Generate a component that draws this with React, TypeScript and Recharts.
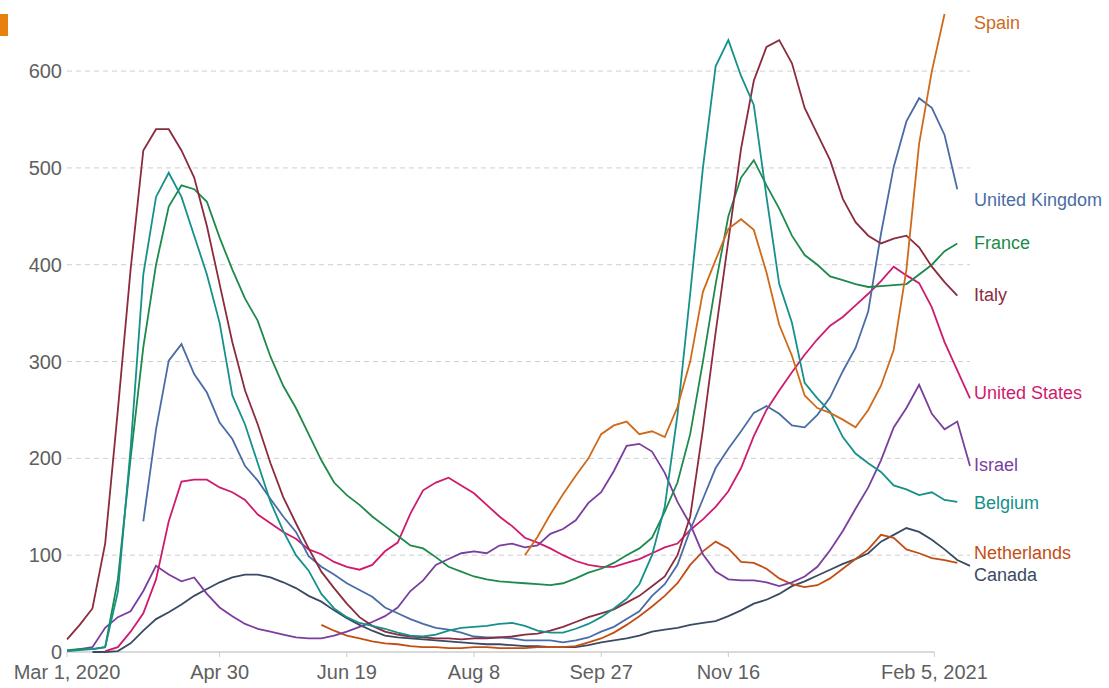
import { LineChart, Line, XAxis, YAxis, CartesianGrid, ReferenceLine } from "recharts";

// days since Mar 1, 2020, sampled every 5 days
const days = [
  0, 5, 10, 15, 20, 25, 30, 35, 40, 45, 50, 55, 60, 65, 70, 75, 80, 85, 90, 95,
  100, 105, 110, 115, 120, 125, 130, 135, 140, 145, 150, 155, 160, 165, 170, 175, 180, 185, 190, 195,
  200, 205, 210, 215, 220, 225, 230, 235, 240, 245, 250, 255, 260, 265, 270, 275, 280, 285, 290, 295,
  300, 305, 310, 315, 320, 325, 330, 335, 340, 345, 350, 355,
];

const italy = [
  13, 28, 45, 112, 250, 395, 518, 540, 540, 518, 490, 440, 380, 320, 270, 235, 195, 160, 133, 107,
  83, 66, 50, 36, 27, 21, 18, 16, 15, 14, 14, 13, 14, 14, 15, 16, 18, 19, 22, 26,
  31, 36, 40, 44, 51, 58, 68, 78, 100, 140, 230, 330, 425, 520, 590, 625, 632, 608, 562, 535,
  508, 468, 444, 430, 422, 427, 430, 418, 398, 382, 368, null,
];

const belgium = [
  1, 2, 3, 5, 62, 210, 390, 470, 495, 470, 430, 390, 340, 265, 235, 195, 155, 125, 100, 84,
  60, 45, 36, 30, 27, 24, 20, 17, 16, 18, 22, 25, 26, 27, 29, 30, 27, 22, 20, 20,
  24, 29, 36, 45, 55, 70, 100, 150, 245, 370, 500, 605, 632, 595, 565, 470, 380, 340, 278, 262,
  248, 222, 205, 195, 186, 172, 168, 162, 165, 157, 155, null,
];

const france = [
  2, 3, 3, 5, 75, 200, 315, 400, 460, 482, 478, 465, 428, 395, 365, 342, 305, 275, 252, 225,
  198, 175, 162, 152, 140, 130, 120, 110, 107, 98, 88, 83, 78, 75, 73, 72, 71, 70, 69, 71,
  76, 82, 86, 92, 100, 107, 118, 145, 175, 225, 300, 380, 450, 490, 508, 482, 458, 430, 410, 400,
  388, 384, 380, 377, 378, 379, 380, 390, 400, 414, 422, null,
];

const spain = [
  null, null, null, null, null, null, null, null, null, null, null, null, null, null, null, null, null, null, null, null,
  null, null, null, null, null, null, null, null, null, null, null, null, null, null, null, null, 100, 119, 142, 163,
  182, 200, 225, 234, 238, 225, 228, 222, 253, 300, 372, 405, 437, 447, 436, 392, 338, 306, 265, 252,
  247, 240, 232, 250, 275, 312, 395, 525, 600, 659, null, null,
];

const unitedKingdom = [
  null, null, null, null, null, null, 135, 230, 301, 318, 287, 268, 237, 220, 192, 177, 158, 140, 124, 99,
  88, 80, 71, 64, 57, 46, 40, 34, 29, 25, 23, 20, 16, 15, 15, 14, 12, 12, 12, 10,
  12, 15, 21, 26, 34, 42, 58, 70, 90, 126, 158, 190, 210, 228, 247, 254, 246, 234, 232, 245,
  263, 290, 314, 352, 432, 501, 548, 572, 562, 534, 478, null,
];

const unitedStates = [
  null, null, null, 1, 5, 21, 40, 75, 135, 176, 178, 178, 170, 165, 157, 142, 133, 124, 117, 106,
  101, 93, 88, 85, 90, 104, 113, 143, 167, 175, 180, 172, 164, 152, 140, 130, 118, 113, 107, 100,
  94, 90, 88, 88, 92, 96, 102, 108, 112, 126, 137, 150, 166, 190, 223, 250, 270, 289, 307, 323,
  337, 346, 358, 370, 383, 398, 389, 381, 356, 320, 291, 262,
];

const israel = [
  1, 3, 5, 25, 36, 42, 63, 89, 80, 73, 77, 60, 46, 37, 29, 24, 21, 18, 15, 14,
  14, 17, 21, 26, 31, 37, 46, 63, 74, 90, 96, 102, 104, 102, 110, 112, 108, 110, 122, 127,
  136, 154, 165, 187, 213, 215, 207, 185, 155, 132, 101, 83, 75, 74, 74, 72, 68, 72, 78, 88,
  105, 125, 148, 170, 198, 232, 252, 276, 246, 230, 238, 192,
];

const netherlands = [
  null, null, null, null, null, null, null, null, null, null, null, null, null, null, null, null, null, null, null, null,
  28, 22, 17, 14, 11, 9, 8, 6, 5, 5, 4, 4, 5, 5, 4, 4, 4, 5, 5, 5,
  6, 10, 14, 20, 28, 37, 47, 58, 71, 90, 104, 114, 107, 93, 92, 86, 76, 70, 67, 69,
  76, 86, 96, 106, 121, 118, 106, 102, 97, 95, 92, null,
];

const canada = [
  null, null, 0, 0, 1, 9, 22, 34, 41, 49, 58, 65, 72, 77, 80, 80, 77, 72, 66, 58,
  52, 43, 35, 28, 22, 17, 15, 14, 13, 12, 11, 10, 9, 8, 8, 7, 6, 6, 5, 5,
  5, 7, 10, 12, 14, 17, 21, 23, 25, 28, 30, 32, 37, 43, 50, 54, 60, 68, 73, 79,
  85, 91, 96, 102, 114, 121, 128, 124, 116, 106, 95, 89,
];

const tickDays = [0, 60, 110, 160, 210, 260, 341];
const tickLabels = ["Mar 1, 2020", "Apr 30", "Jun 19", "Aug 8", "Sep 27", "Nov 16", "Feb 5, 2021"];

const series = [
  { key: "canada", name: "Canada", color: "#3a4a63", values: canada, labelY: 575 },
  { key: "netherlands", name: "Netherlands", color: "#c34e14", values: netherlands, labelY: 553 },
  { key: "israel", name: "Israel", color: "#7a3f9e", values: israel, labelY: 465 },
  { key: "unitedStates", name: "United States", color: "#cf1b6e", values: unitedStates, labelY: 393 },
  { key: "unitedKingdom", name: "United Kingdom", color: "#4a6ca6", values: unitedKingdom, labelY: 200 },
  { key: "france", name: "France", color: "#1d8a4b", values: france, labelY: 243 },
  { key: "italy", name: "Italy", color: "#8b2b3d", values: italy, labelY: 295 },
  { key: "belgium", name: "Belgium", color: "#16918a", values: belgium, labelY: 503 },
  { key: "spain", name: "Spain", color: "#cf6a1a", values: spain, labelY: 23 },
];

const data = days.map((day, i) => {
  const row: Record<string, number | null> = { day };
  series.forEach((s) => {
    row[s.key] = s.values[i];
  });
  return row;
});

const font = '"Liberation Sans", Arial, sans-serif';

export default function App() {
  return (
    <div style={{ position: "absolute", left: 0, top: 0, width: 1109, height: 688, background: "#fff", fontFamily: font }}>
      <div style={{ position: "absolute", left: 0, top: 14, width: 8, height: 22, background: "#e8800e" }} />
      <LineChart width={1109} height={688} data={data} margin={{ top: 13, right: 139, bottom: 4, left: 7 }}>
        <CartesianGrid vertical={false} horizontalValues={[100, 200, 300, 400, 500, 600]} stroke="#cfcfcf" strokeDasharray="5 4" />
        <XAxis
          dataKey="day"
          type="number"
          domain={[0, 355]}
          ticks={tickDays}
          tickFormatter={(v: number) => tickLabels[tickDays.indexOf(v)]}
          axisLine={false}
          tickLine={{ stroke: "#cccccc" }}
          tickSize={5}
          tickMargin={8}
          height={32}
          tick={{ fill: "#5f5f5f", fontSize: 20, fontFamily: font }}
        />
        <YAxis
          type="number"
          domain={[0, 660]}
          ticks={[0, 100, 200, 300, 400, 500, 600]}
          axisLine={false}
          tickLine={false}
          tickSize={0}
          tickMargin={5}
          width={60}
          tick={{ fill: "#5f5f5f", fontSize: 20, fontFamily: font }}
        />
        <ReferenceLine segment={[{ x: 0, y: 0 }, { x: 341, y: 0 }]} stroke="#cccccc" strokeWidth={1.5} />
        {series.map((s) => (
          <Line
            key={s.key}
            type="linear"
            dataKey={s.key}
            stroke={s.color}
            strokeWidth={1.8}
            dot={false}
            isAnimationActive={false}
          />
        ))}
      </LineChart>
      {series.map((s) => (
        <div
          key={s.key}
          style={{
            position: "absolute",
            left: 974,
            top: s.labelY,
            transform: "translateY(-50%)",
            color: s.color,
            fontSize: 18,
            lineHeight: 1,
            whiteSpace: "nowrap",
          }}
        >
          {s.name}
        </div>
      ))}
    </div>
  );
}
